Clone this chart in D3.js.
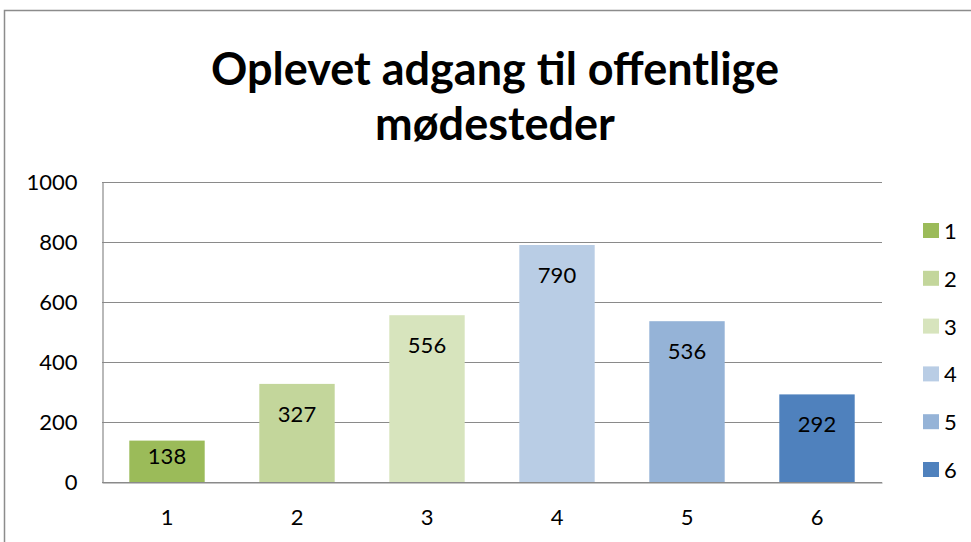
<!DOCTYPE html>
<html>
<head>
<meta charset="utf-8">
<script src="https://cdn.jsdelivr.net/npm/d3@7"></script>
<style>
  body { margin: 0; background: #fff; }
  svg { display: block; font-family: Lato, "Open Sans", sans-serif; }
</style>
</head>
<body>
<div id="chart"></div>
<script>
var categories = ["1", "2", "3", "4", "5", "6"];
var values = [138, 327, 556, 790, 536, 292];
var colors = ["#9BBB59", "#C3D69B", "#D7E4BD", "#B9CDE5", "#95B3D7", "#4F81BD"];
var yTicks = [0, 200, 400, 600, 800, 1000];
var titleLines = ["Oplevet adgang til offentlige", "mødesteder"];

var width = 971,
    height = 542;

var margin = {top: 182, right: 89, bottom: 60, left: 102};

var svg = d3.select("#chart").append("svg")
    .attr("width", width)
    .attr("height", height);

// chart border, runs off the right and bottom edge
svg.append("rect")
    .attr("x", 4.5)
    .attr("y", 10.5)
    .attr("width", 1000)
    .attr("height", 600)
    .attr("fill", "#fff")
    .attr("stroke", "#8c8c8c")
    .attr("stroke-width", 1.5);

var title = svg.append("text")
    .attr("text-anchor", "middle")
    .attr("font-weight", "bold")
    .attr("font-size", 45)
    .attr("fill", "#000");

title.selectAll("tspan")
    .data(titleLines)
  .enter().append("tspan")
    .attr("x", 495)
    .attr("y", function(d, i) { return 85 + i * 55; })
    .text(function(d) { return d; });

var x = d3.scaleBand()
    .domain(categories)
    .range([margin.left, width - margin.right])
    .paddingInner(0.42)
    .paddingOuter(0.21);

var y = d3.scaleLinear()
    .domain([0, 1000])
    .range([height - margin.bottom, margin.top]);

var g = svg.append("g");

// gridlines
g.selectAll(".grid")
    .data(yTicks)
  .enter().append("line")
    .attr("class", "grid")
    .attr("x1", margin.left)
    .attr("x2", width - margin.right)
    .attr("y1", function(d) { return Math.round(y(d)) + 0.5; })
    .attr("y2", function(d) { return Math.round(y(d)) + 0.5; })
    .attr("stroke", "#8a8a8a")
    .attr("stroke-width", 1.2);

// y axis
var yAxis = g.append("g")
    .attr("transform", "translate(" + (margin.left + 0.5) + ",0)")
    .call(d3.axisLeft(y).tickValues(yTicks).tickFormat(d3.format("d")).tickSize(0).tickPadding(25));
yAxis.select(".domain").attr("stroke", "#8a8a8a").attr("stroke-width", 1.2);
yAxis.selectAll("text")
    .attr("font-size", 22)
    .attr("font-family", "Lato, 'Open Sans', sans-serif")
    .attr("fill", "#000");

// bars
g.selectAll(".bar")
    .data(values)
  .enter().append("rect")
    .attr("class", "bar")
    .attr("x", function(d, i) { return x(categories[i]); })
    .attr("y", function(d) { return y(d); })
    .attr("width", x.bandwidth())
    .attr("height", function(d) { return y(0) - y(d); })
    .attr("fill", function(d, i) { return colors[i]; });

// value labels, inside end; short bars keep the label above the baseline
g.selectAll(".val")
    .data(values)
  .enter().append("text")
    .attr("class", "val")
    .attr("x", function(d, i) { return x(categories[i]) + x.bandwidth() / 2; })
    .attr("y", function(d) { return Math.min(y(d) + 38, y(0) - 18); })
    .attr("text-anchor", "middle")
    .attr("font-size", 22)
    .attr("fill", "#000")
    .text(function(d) { return d; });

// x axis
var xAxis = g.append("g")
    .attr("transform", "translate(0," + (Math.round(y(0)) + 0.5) + ")")
    .call(d3.axisBottom(x).tickSize(0).tickPadding(27));
xAxis.select(".domain").attr("stroke", "#8a8a8a").attr("stroke-width", 1.2);
xAxis.selectAll("text")
    .attr("font-size", 22)
    .attr("font-family", "Lato, 'Open Sans', sans-serif")
    .attr("fill", "#000");

// legend
var legend = svg.selectAll(".legend")
    .data(categories)
  .enter().append("g")
    .attr("class", "legend")
    .attr("transform", function(d, i) { return "translate(923," + (223 + i * 47.8) + ")"; });

legend.append("rect")
    .attr("width", 16)
    .attr("height", 15)
    .attr("fill", function(d, i) { return colors[i]; });

legend.append("text")
    .attr("x", 21)
    .attr("y", 16)
    .attr("font-size", 22)
    .attr("fill", "#000")
    .text(function(d) { return d; });
</script>
</body>
</html>
